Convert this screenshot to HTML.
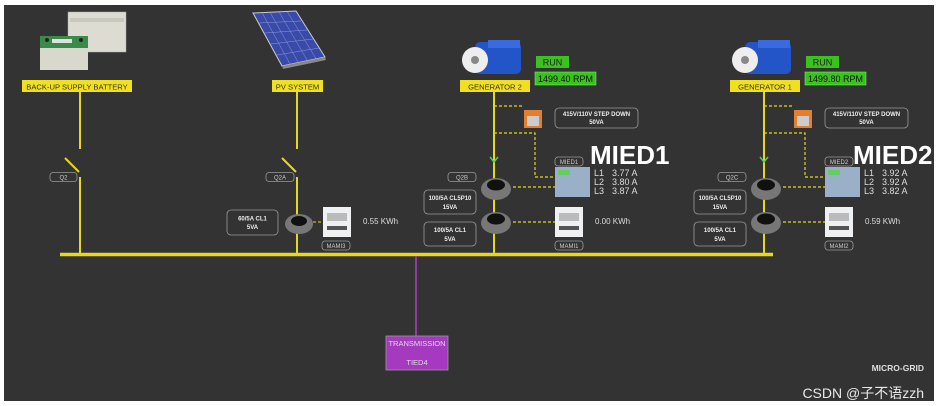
<!DOCTYPE html>
<html><head><meta charset="utf-8"><style>
html,body{margin:0;padding:0;background:#fff;width:939px;height:406px;overflow:hidden}
svg{display:block}
text{font-family:"Liberation Sans","Noto Sans CJK SC",sans-serif}
</style></head><body>
<svg width="939" height="406" viewBox="0 0 939 406" xmlns="http://www.w3.org/2000/svg">
<rect x="0" y="0" width="939" height="406" fill="#fff"/>
<rect x="4" y="5" width="930" height="396" fill="#333333"/>

<!-- Battery -->
<g>
<rect x="68" y="12" width="58" height="40" fill="#dcdcd2" stroke="#aaa" stroke-width="0.5"/>
<rect x="70" y="18" width="54" height="4" fill="#c8c8bc"/>
<rect x="40" y="38" width="48" height="32" fill="#d8d8cc"/>
<rect x="40" y="36" width="48" height="12" fill="#3a8a4a"/>
<circle cx="47" cy="40" r="2" fill="#222"/><circle cx="81" cy="40" r="2" fill="#222"/>
<rect x="52" y="39" width="20" height="4" fill="#e0e0e0"/>
</g>
<rect x="22" y="80" width="110" height="12" fill="#f0e020"/>
<text x="77" y="89.5" font-size="7.6" fill="#333" text-anchor="middle">BACK-UP SUPPLY BATTERY</text>

<!-- PV -->
<polygon points="253,13 296,11 325,57 282,66" fill="#3a4aa8" stroke="#ccc" stroke-width="1"/>
<g stroke="#8f9ae0" stroke-width="0.5">
<line x1="262" y1="12.6" x2="290" y2="64"/><line x1="270" y1="12.2" x2="298" y2="62"/><line x1="279" y1="11.8" x2="307" y2="60"/><line x1="287" y1="11.4" x2="316" y2="58.5"/>
<line x1="259" y1="23" x2="301" y2="21"/><line x1="265" y1="33" x2="307" y2="30"/><line x1="271" y1="44" x2="313" y2="39"/><line x1="277" y1="55" x2="319" y2="48"/>
</g>
<polygon points="282,66 325,57 326,60 283,69" fill="#888"/>
<rect x="272" y="80" width="51" height="12" fill="#f0e020"/>
<text x="297.5" y="89.5" font-size="7.6" fill="#333" text-anchor="middle">PV SYSTEM</text>

<!-- Lines battery / pv -->
<g stroke="#e6d81c" stroke-width="2" fill="none">
<line x1="80" y1="92" x2="80" y2="149"/><line x1="65" y1="158" x2="79" y2="172"/><line x1="80" y1="177" x2="80" y2="254"/>
<line x1="297" y1="92" x2="297" y2="149"/><line x1="282" y1="158" x2="296" y2="172"/><line x1="297" y1="177" x2="297" y2="254"/>
<line x1="494" y1="92" x2="494" y2="254"/>
<line x1="764" y1="92" x2="764" y2="254"/>
</g>
<line x1="60" y1="254.5" x2="773" y2="254.5" stroke="#e6d81c" stroke-width="3.5"/>

<!-- small labels -->
<g fill="none" stroke="#999" stroke-width="0.8">
<rect x="50" y="172.5" width="27" height="9" rx="3"/>
<rect x="266" y="172.5" width="28" height="9" rx="3"/>
<rect x="448" y="172.5" width="28" height="9" rx="3"/>
<rect x="718" y="172.5" width="28" height="9" rx="3"/>
<rect x="322" y="241" width="28" height="9" rx="3"/>
<rect x="555" y="241" width="28" height="9" rx="3"/>
<rect x="825" y="241" width="28" height="9" rx="3"/>
<rect x="555" y="157" width="28" height="9" rx="3"/>
<rect x="825" y="157" width="28" height="9" rx="3"/>
<rect x="227" y="210" width="51" height="25" rx="4"/>
<rect x="424" y="190" width="52" height="24" rx="4"/>
<rect x="424" y="222" width="52" height="24" rx="4"/>
<rect x="694" y="190" width="52" height="24" rx="4"/>
<rect x="694" y="222" width="52" height="24" rx="4"/>
<rect x="555" y="108" width="83" height="20" rx="4"/>
<rect x="825" y="108" width="83" height="20" rx="4"/>
</g>
<g font-size="6" fill="#ccc" text-anchor="middle">
<text x="63.5" y="179.5">Q2</text><text x="280" y="179.5">Q2A</text><text x="462" y="179.5">Q2B</text><text x="732" y="179.5">Q2C</text>
<text x="336" y="248">MAMI3</text><text x="569" y="248">MAMI1</text><text x="839" y="248">MAMI2</text>
<text x="569" y="164">MIED1</text><text x="839" y="164">MIED2</text>
</g>
<g font-size="6" fill="#eee" font-weight="bold" text-anchor="middle">
<text x="252.5" y="220.5">60/5A CL1</text><text x="252.5" y="229">5VA</text>
<text x="450" y="200">100/5A CL5P10</text><text x="450" y="209">15VA</text>
<text x="450" y="232">100/5A CL1</text><text x="450" y="241">5VA</text>
<text x="720" y="200">100/5A CL5P10</text><text x="720" y="209">15VA</text>
<text x="720" y="232">100/5A CL1</text><text x="720" y="241">5VA</text>
<text x="596.5" y="116">415V/110V STEP DOWN</text><text x="596.5" y="124">50VA</text>
<text x="866.5" y="116">415V/110V STEP DOWN</text><text x="866.5" y="124">50VA</text>
</g>

<!-- CT + meter PV -->
<g>
<ellipse cx="299" cy="224" rx="14" ry="10" fill="#777"/><ellipse cx="299" cy="221" rx="8" ry="5" fill="#111"/>
<line x1="313" y1="222" x2="322" y2="222" stroke="#e6d81c" stroke-dasharray="3,2"/>
<rect x="323" y="207" width="28" height="30" fill="#eef0f2"/><rect x="327" y="213" width="20" height="8" fill="#bbb"/><rect x="327" y="226" width="20" height="4" fill="#555"/>
</g>
<text x="363" y="224" font-size="8" fill="#ddd">0.55 KWh</text>

<!-- Generator groups -->
<g id="gen">
<rect x="475" y="42" width="46" height="32" rx="5" fill="#2455c8"/>
<rect x="488" y="40" width="32" height="8" fill="#3a6ae0"/>
<circle cx="475" cy="60" r="13" fill="#eee"/><circle cx="475" cy="60" r="4" fill="#888"/>
<rect x="460" y="80" width="70" height="12" fill="#f0e020"/>
<text x="495" y="89.5" font-size="7.6" fill="#333" text-anchor="middle">GENERATOR 2</text>
<rect x="536" y="56" width="33" height="12" fill="#3cc21e"/>
<text x="552.5" y="65.5" font-size="9" fill="#222" text-anchor="middle">RUN</text>
<rect x="535" y="72" width="61" height="13" fill="#3cc21e" stroke="#7f7" stroke-width="0.5"/>
<text x="565.5" y="82" font-size="9" fill="#111" text-anchor="middle">1499.40 RPM</text>
<g stroke="#e6d81c" stroke-width="1.2" stroke-dasharray="3,2" fill="none">
<polyline points="494,106 524,106"/><polyline points="494,133 535,133 535,177 555,177"/>
<line x1="513" y1="187" x2="555" y2="187"/><line x1="513" y1="222" x2="555" y2="222"/>
</g>
<rect x="524" y="110" width="18" height="18" fill="#e08030"/><rect x="527" y="116" width="12" height="10" fill="#ccc"/>
<polyline points="490,157 494,162 498,157" stroke="#5c5" stroke-width="1.5" fill="none"/>
<ellipse cx="496" cy="189" rx="15" ry="11" fill="#777"/><ellipse cx="496" cy="185" rx="9" ry="5.5" fill="#111"/>
<ellipse cx="496" cy="223" rx="15" ry="11" fill="#777"/><ellipse cx="496" cy="219" rx="9" ry="5.5" fill="#111"/>
<rect x="555" y="167" width="35" height="30" fill="#9ab0c8"/><rect x="558" y="170" width="12" height="5" fill="#6c6"/>
<rect x="555" y="207" width="28" height="30" fill="#eef0f2"/><rect x="559" y="213" width="20" height="8" fill="#bbb"/><rect x="559" y="226" width="20" height="4" fill="#555"/>
<text x="590" y="164" font-size="26" font-weight="bold" fill="#fff">MIED1</text>
<g font-size="9" fill="#ddd"><text x="594" y="176">L1</text><text x="594" y="185">L2</text><text x="594" y="194">L3</text>
<text x="612" y="176">3.77 A</text><text x="612" y="185">3.80 A</text><text x="612" y="194">3.87 A</text></g>
<text x="595" y="224" font-size="8" fill="#ddd">0.00 KWh</text>
</g>

<g transform="translate(270,0)">
<rect x="475" y="42" width="46" height="32" rx="5" fill="#2455c8"/>
<rect x="488" y="40" width="32" height="8" fill="#3a6ae0"/>
<circle cx="475" cy="60" r="13" fill="#eee"/><circle cx="475" cy="60" r="4" fill="#888"/>
<rect x="460" y="80" width="70" height="12" fill="#f0e020"/>
<text x="495" y="89.5" font-size="7.6" fill="#333" text-anchor="middle">GENERATOR 1</text>
<rect x="536" y="56" width="33" height="12" fill="#3cc21e"/>
<text x="552.5" y="65.5" font-size="9" fill="#222" text-anchor="middle">RUN</text>
<rect x="535" y="72" width="61" height="13" fill="#3cc21e" stroke="#7f7" stroke-width="0.5"/>
<text x="565.5" y="82" font-size="9" fill="#111" text-anchor="middle">1499.80 RPM</text>
<g stroke="#e6d81c" stroke-width="1.2" stroke-dasharray="3,2" fill="none">
<polyline points="494,106 524,106"/><polyline points="494,133 535,133 535,177 555,177"/>
<line x1="513" y1="187" x2="555" y2="187"/><line x1="513" y1="222" x2="555" y2="222"/>
</g>
<rect x="524" y="110" width="18" height="18" fill="#e08030"/><rect x="527" y="116" width="12" height="10" fill="#ccc"/>
<polyline points="490,157 494,162 498,157" stroke="#5c5" stroke-width="1.5" fill="none"/>
<ellipse cx="496" cy="189" rx="15" ry="11" fill="#777"/><ellipse cx="496" cy="185" rx="9" ry="5.5" fill="#111"/>
<ellipse cx="496" cy="223" rx="15" ry="11" fill="#777"/><ellipse cx="496" cy="219" rx="9" ry="5.5" fill="#111"/>
<rect x="555" y="167" width="35" height="30" fill="#9ab0c8"/><rect x="558" y="170" width="12" height="5" fill="#6c6"/>
<rect x="555" y="207" width="28" height="30" fill="#eef0f2"/><rect x="559" y="213" width="20" height="8" fill="#bbb"/><rect x="559" y="226" width="20" height="4" fill="#555"/>
<text x="583" y="164" font-size="26" font-weight="bold" fill="#fff">MIED2</text>
<g font-size="9" fill="#ddd"><text x="594" y="176">L1</text><text x="594" y="185">L2</text><text x="594" y="194">L3</text>
<text x="612" y="176">3.92 A</text><text x="612" y="185">3.92 A</text><text x="612" y="194">3.82 A</text></g>
<text x="595" y="224" font-size="8" fill="#ddd">0.59 KWh</text>
</g>

<!-- Transmission -->
<line x1="416" y1="256" x2="416" y2="336" stroke="#b040c0" stroke-width="1.5"/>
<rect x="386" y="336" width="62" height="34" fill="#a53ac0" stroke="#999" stroke-width="0.8"/>
<text x="417" y="346" font-size="7.5" fill="#ddd" text-anchor="middle">TRANSMISSION</text>
<text x="417" y="365" font-size="7.5" fill="#ddd" text-anchor="middle">TIED4</text>

<text x="924" y="371" font-size="8.5" font-weight="bold" fill="#ddd" text-anchor="end">MICRO-GRID</text>
<text x="924" y="398" font-size="14" fill="#e8e8e8" text-anchor="end">CSDN @子不语zzh</text>
</svg>
</body></html>
